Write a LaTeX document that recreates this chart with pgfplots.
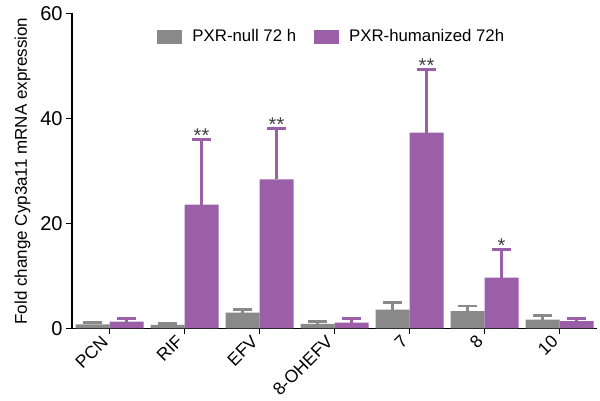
\documentclass[border=0pt]{standalone}
\usepackage{fontspec}
\setmainfont{Liberation Sans}
\usepackage{pgfplots}
\pgfplotsset{compat=1.18}

\definecolor{nullgray}{HTML}{898989}
\definecolor{humpurple}{HTML}{9A5FA7}

% fold change (mean, +SD) per compound, x = 0..6
\pgfplotstableread{
x  null  nullerr  hum   humerr
0  0.8   0.4      1.3   0.6
1  0.7   0.3      23.6  12.4
2  3.0   0.6      28.4  9.7
3  0.9   0.4      1.1   0.8
4  3.6   1.4      37.3  12.0
5  3.3   1.0      9.7   5.3
6  1.7   0.7      1.4   0.5
}\datatable

\begin{document}
\begin{tikzpicture}
\begin{axis}[
    name=ax,
    scale only axis, width=262.5pt, height=157.5pt,
    ybar, bar width=17pt,
    xmin=-0.5, xmax=6.5, ymin=0, ymax=60,
    ytick={0,20,40,60},
    xtick=data,
    xticklabels={PCN,RIF,EFV,8-OHEFV,7,8,10},
    x tick label style={rotate=45, anchor=north east, inner sep=0pt,
        xshift=-3pt, yshift=3.5pt, font=\fontsize{8.8}{10}\selectfont},
    y tick label style={inner sep=1.5pt, font=\fontsize{10}{10}\selectfont},
    axis x line*=bottom, axis y line*=left,
    tick align=outside, major tick length=3pt,
    tick style={black, line width=0.8pt},
    axis line style={line width=0.8pt},
    every axis plot/.append style={draw=none},
    /pgf/number format/assume math mode=true,
    ylabel={Fold change Cyp3a11 mRNA expression},
    ylabel style={font=\fontsize{8.5}{9}\selectfont},
    legend style={at={(0.493,0.925)}, anchor=center, draw=none, fill=none,
        legend columns=2, font=\fontsize{8.4}{9}\selectfont,
        nodes={inner sep=0pt},
        /tikz/every odd column/.append style={column sep=5pt},
        /tikz/every even column/.append style={column sep=9pt}},
    legend image code/.code={\fill[#1] (0pt,-3.5pt) rectangle (12.5pt,3.5pt);},
]
\addplot[fill=nullgray, bar shift=-8.5pt,
    error bars/.cd, y dir=plus, y explicit,
    error bar style={nullgray, line width=1.2pt},
    error mark options={nullgray, rotate=90, mark size=4.8pt, line width=1.4pt}]
  table[x=x, y=null, y error=nullerr] {\datatable};
\addlegendentry{PXR-null 72 h}
\addplot[fill=humpurple, bar shift=8.5pt,
    error bars/.cd, y dir=plus, y explicit,
    error bar style={humpurple, line width=1.2pt},
    error mark options={humpurple, rotate=90, mark size=4.8pt, line width=1.4pt}]
  table[x=x, y=hum, y error=humerr] {\datatable};
\addlegendentry{PXR-humanized 72h}
% significance marks above the humanized error bars
\tikzset{sig/.style={anchor=base, inner sep=0pt, yshift=-1.6pt,
    font=\fontsize{10}{10}\selectfont, text=black!75}}
\node[sig] at (axis cs:1.227,36) {**};
\node[sig] at (axis cs:2.227,38.1) {**};
\node[sig] at (axis cs:4.227,49.3) {**};
\node[sig] at (axis cs:5.227,15) {*};
\end{axis}
\pgfresetboundingbox
\path ([shift={(-36pt,-36.25pt)}]ax.south west) rectangle ([shift={(1.5pt,6.75pt)}]ax.north east);
\end{tikzpicture}
\end{document}
